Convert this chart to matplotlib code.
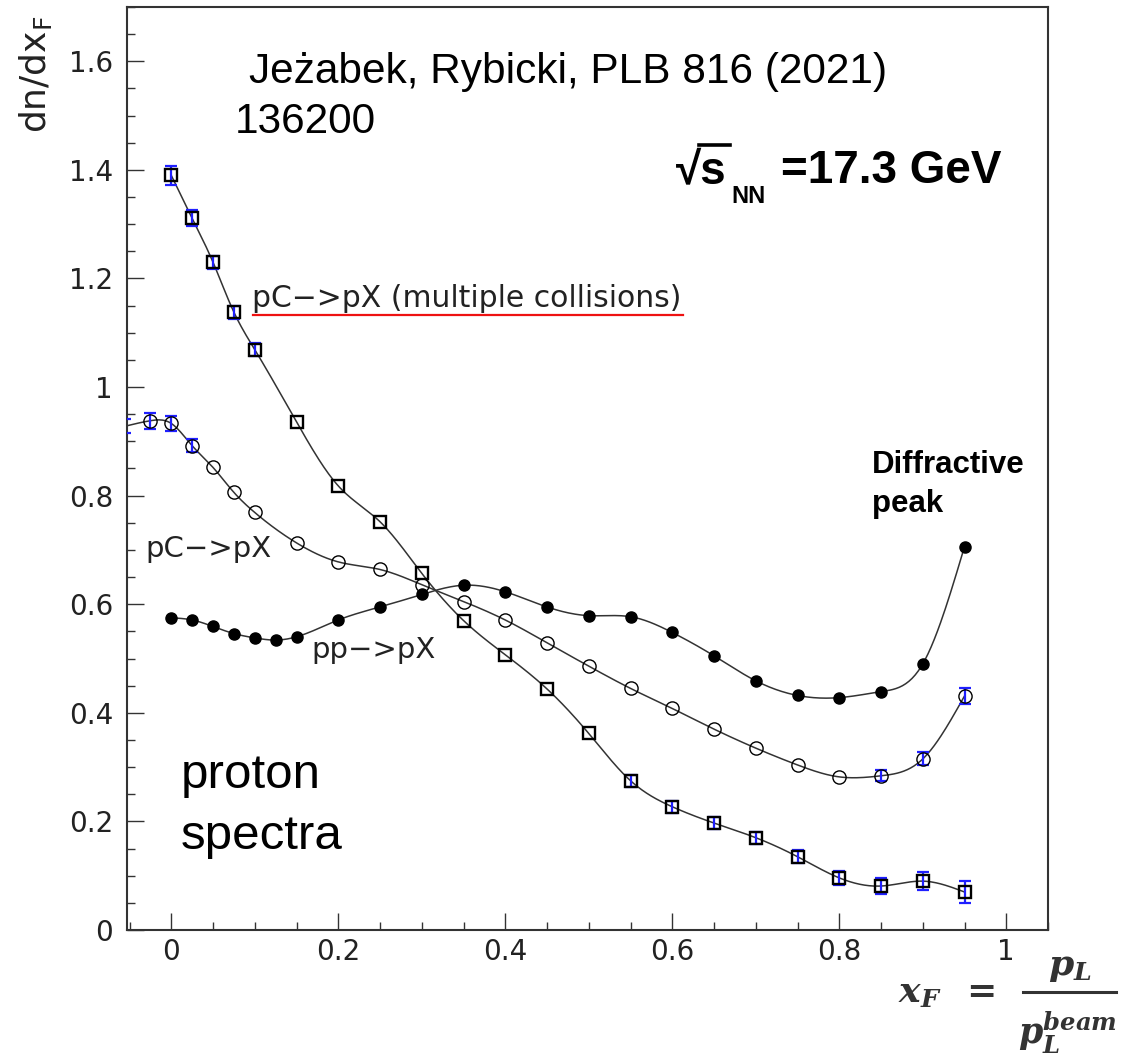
import numpy as np
import matplotlib
matplotlib.use('Agg')
import matplotlib.pyplot as plt
from matplotlib.lines import Line2D
from matplotlib.ticker import MultipleLocator, FuncFormatter

# pC->pX (multiple collisions), open squares
x_multi = [0, 0.025, 0.05, 0.075, 0.1, 0.15, 0.2, 0.25, 0.3, 0.35, 0.4, 0.45,
           0.5, 0.55, 0.6, 0.65, 0.7, 0.75, 0.8, 0.85, 0.9, 0.95]
y_multi = [1.390, 1.311, 1.230, 1.138, 1.069, 0.936, 0.818, 0.752, 0.657, 0.570, 0.507, 0.444,
           0.362, 0.275, 0.227, 0.197, 0.170, 0.135, 0.096, 0.081, 0.090, 0.070]
e_multi = [0.017, 0.015, 0.012, 0.012, 0.012, 0, 0, 0, 0, 0, 0, 0,
           0, 0.011, 0.011, 0.011, 0.011, 0.012, 0.013, 0.015, 0.017, 0.020]

# pC->pX, open circles (first point sits just outside the frame)
x_pc = [-0.055, -0.025, 0, 0.025, 0.05, 0.075, 0.1, 0.15, 0.2, 0.25, 0.3, 0.35, 0.4,
        0.45, 0.5, 0.55, 0.6, 0.65, 0.7, 0.75, 0.8, 0.85, 0.9, 0.95]
y_pc = [0.928, 0.938, 0.933, 0.892, 0.852, 0.806, 0.769, 0.713, 0.678, 0.664, 0.636, 0.605, 0.571,
        0.529, 0.486, 0.445, 0.408, 0.370, 0.335, 0.304, 0.282, 0.284, 0.315, 0.431]
e_pc = [0.013, 0.015, 0.014, 0.012, 0, 0, 0, 0, 0, 0, 0, 0, 0,
        0, 0, 0, 0, 0, 0, 0, 0, 0.010, 0.012, 0.015]

# pp->pX, full circles
x_pp = [0, 0.025, 0.05, 0.075, 0.1, 0.125, 0.15, 0.2, 0.25, 0.3, 0.35, 0.4,
        0.45, 0.5, 0.55, 0.6, 0.65, 0.7, 0.75, 0.8, 0.85, 0.9, 0.95]
y_pp = [0.575, 0.571, 0.559, 0.546, 0.538, 0.534, 0.540, 0.571, 0.595, 0.618, 0.635, 0.623,
        0.595, 0.579, 0.577, 0.548, 0.505, 0.459, 0.432, 0.428, 0.439, 0.490, 0.706]

W, H = 1129, 1058
XMIN, XMAX = -0.053, 1.05
YMIN, YMAX = 0.0, 1.70


def spline(x, y, xs):
    # natural cubic spline, like the smooth "C" curve in ROOT
    x = np.asarray(x, float)
    y = np.asarray(y, float)
    n = len(x)
    h = np.diff(x)
    A = np.zeros((n, n))
    b = np.zeros(n)
    A[0, 0] = 1
    A[-1, -1] = 1
    for i in range(1, n - 1):
        A[i, i - 1] = h[i - 1]
        A[i, i] = 2 * (h[i - 1] + h[i])
        A[i, i + 1] = h[i]
        b[i] = 6 * ((y[i + 1] - y[i]) / h[i] - (y[i] - y[i - 1]) / h[i - 1])
    M = np.linalg.solve(A, b)
    k = np.clip(np.searchsorted(x, xs) - 1, 0, n - 2)
    x0, x1 = x[k], x[k + 1]
    hh = x1 - x0
    return (M[k] * (x1 - xs) ** 3 / (6 * hh) + M[k + 1] * (xs - x0) ** 3 / (6 * hh)
            + (y[k] / hh - M[k] * hh / 6) * (x1 - xs)
            + (y[k + 1] / hh - M[k + 1] * hh / 6) * (xs - x0))


def fx(px):
    return px / W


def fy(py):
    return 1 - py / H


fig = plt.figure(figsize=(W / 100, H / 100), dpi=100)
ax = fig.add_axes([fx(127), fy(930), fx(1048) - fx(127), fy(7) - fy(930)])
ax.set_xlim(XMIN, XMAX)
ax.set_ylim(YMIN, YMAX)

lc = '#333333'
ebc = '#1f1fff'


def draw(x, y, err, marker, ms, mfc, mew):
    x = np.asarray(x)
    y = np.asarray(y)
    xs = np.linspace(x[0], x[-1], 500)
    ax.plot(xs, spline(x, y, xs), color=lc, lw=1.1, zorder=2)
    if err is not None:
        err = np.asarray(err)
        m = err > 0
        ax.errorbar(x[m], y[m], yerr=err[m], fmt='none', ecolor=ebc, elinewidth=1.6,
                    capsize=4.5, capthick=1.6, zorder=3)
    # markers outside the frame are not drawn
    v = x >= XMIN
    ax.plot(x[v], y[v], marker, ms=ms, mfc=mfc, mec='black', mew=mew, zorder=4)


draw(x_multi, y_multi, e_multi, 's', 9, 'none', 1.7)
draw(x_pc, y_pc, e_pc, 'o', 9.5, 'none', 1.0)
draw(x_pp, y_pp, None, 'o', 8, 'black', 1.0)

# axes style
for s in ax.spines.values():
    s.set_color(lc)
    s.set_linewidth(1.5)
ax.xaxis.set_major_locator(MultipleLocator(0.2))
ax.xaxis.set_minor_locator(MultipleLocator(0.05))
ax.yaxis.set_major_locator(MultipleLocator(0.2))
ax.yaxis.set_minor_locator(MultipleLocator(0.05))
fmt = FuncFormatter(lambda v, p: '%g' % round(v, 2))
ax.xaxis.set_major_formatter(fmt)
ax.yaxis.set_major_formatter(fmt)
ax.tick_params(which='both', direction='in', top=False, right=False, color=lc, width=1.0)
ax.tick_params(which='major', length=12.5, labelsize=20, labelcolor='#222222')
ax.tick_params(which='minor', length=6)
ax.tick_params(axis='x', pad=6)
ax.tick_params(axis='y', pad=10)

# axis titles
fig.text(fx(36), fy(74), r'dn/dx$_\mathregular{F}$', rotation=90, fontsize=26,
         ha='center', va='center', color='#222222')
plt.rcParams['mathtext.fontset'] = 'dejavuserif'
tc = '#333333'
fig.text(fx(898), fy(1003), r'$\mathbfit{x}_{\mathbfit{F}}$', fontsize=26, va='baseline', color=tc)
fig.text(fx(966), fy(1002), '=', fontsize=26, family='DejaVu Serif', weight='bold',
         va='baseline', color=tc)
fig.text(fx(1070), fy(975), r'$\mathbfit{p}_{\mathbfit{L}}$', fontsize=26, ha='center',
         va='baseline', color=tc)
fig.add_artist(Line2D([fx(1023), fx(1116)], [fy(992), fy(992)], color=tc, lw=2.2))
fig.text(fx(1068), fy(1044), r'$\mathbfit{p}_{\mathbfit{L}}^{\mathbfit{beam}}$', fontsize=25,
         ha='center', va='baseline', color=tc)

# annotations
fig.text(fx(249), fy(83), 'Jeżabek, Rybicki, PLB 816 (2021)', fontsize=30.5,
         family='Liberation Sans', va='baseline')
fig.text(fx(235), fy(133), '136200', fontsize=30.5, family='Liberation Sans', va='baseline')

bold = ['Liberation Sans', 'DejaVu Sans']
fig.text(fx(676), fy(183), '√s', fontsize=33, family=bold, weight='bold', va='baseline')
fig.add_artist(Line2D([fx(699), fx(730)], [fy(145), fy(145)], color='black', lw=2.6))
fig.text(fx(731), fy(203), 'NN', fontsize=17, family=bold, weight='bold', va='baseline')
fig.text(fx(781), fy(183), '=17.3 GeV', fontsize=33, family=bold, weight='bold',
         va='baseline')

fig.text(fx(872), fy(473), 'Diffractive', fontsize=22.5, family='Liberation Sans',
         weight='bold', va='baseline')
fig.text(fx(872), fy(512), 'peak', fontsize=22.5, family='Liberation Sans',
         weight='bold', va='baseline')

fig.text(fx(181), fy(788), 'proton', fontsize=35.5, family='Liberation Sans', va='baseline')
fig.text(fx(181), fy(849), 'spectra', fontsize=35.5, family='Liberation Sans', va='baseline')

fig.text(fx(252), fy(307), 'pC−>pX (multiple collisions)', fontsize=21.5, va='baseline',
         color='#222222')
fig.add_artist(Line2D([fx(253), fx(683)], [fy(315), fy(315)], color='#ee1111', lw=1.6))
fig.text(fx(145), fy(557), 'pC−>pX', fontsize=21, va='baseline', color='#222222')
fig.text(fx(311), fy(658), 'pp−>pX', fontsize=21, va='baseline', color='#222222')

fig.savefig('out.png', dpi=100)
